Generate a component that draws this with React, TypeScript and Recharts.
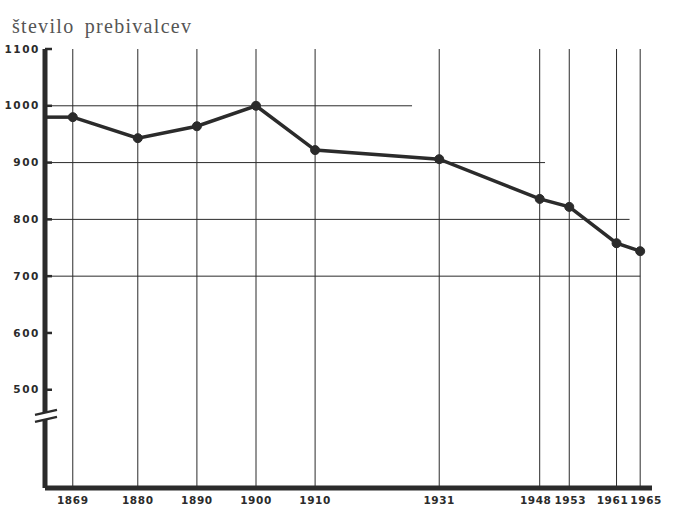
import {
  LineChart,
  Line,
  XAxis,
  YAxis,
  ReferenceLine,
  ReferenceDot,
} from 'recharts';

// census years and population
const years = [1869, 1880, 1890, 1900, 1910, 1931, 1948, 1953, 1961, 1965];
const population = [980, 943, 964, 1000, 922, 906, 836, 822, 758, 744];
const yTicks = [500, 600, 700, 800, 900, 1000, 1100];

// horizontal guide lines, each stopping at a different year
const guideValues = [1000, 900, 800, 700];
const guideEnds = [1926.4, 1948.9, 1963.2, 1965];

const xMin = 1864.3;
const xMax = 1967;
const breakValue = 454;

const ink = '#2b2b2b';
const handFont = '"DejaVu Sans", sans-serif';

// crowded year labels are pushed apart a little, as in the drawing
const labelNudge: Record<number, number> = { 1948: -4, 1953: 1, 1961: -4, 1965: 6 };

const data = years.map((year, i) => ({ year, value: population[i] }));

const YTick = ({ x, y, payload }: any) => (
  <g>
    <line x1={x} y1={y} x2={x + 7} y2={y} stroke={ink} strokeWidth={2.5} />
    <text
      x={x - 5}
      y={y}
      dy="0.35em"
      textAnchor="end"
      fontFamily={handFont}
      fontSize={10.5}
      fontWeight={600}
      letterSpacing={1.6}
      fill={ink}
    >
      {payload.value}
    </text>
  </g>
);

const XTick = ({ x, y, payload }: any) => (
  <text
    x={x + (labelNudge[payload.value] || 0)}
    y={y + 16}
    textAnchor="middle"
    fontFamily={handFont}
    fontSize={10.5}
    fontWeight={600}
    letterSpacing={0.6}
    fill={ink}
  >
    {payload.value}
  </text>
);

// the "//" break drawn across the value axis
const AxisBreak = ({ cx, cy }: any) => (
  <g>
    <polygon
      points={`${cx - 10},${cy - 1} ${cx + 12},${cy - 6} ${cx + 12},${cy + 1} ${cx - 10},${cy + 6}`}
      fill="#fff"
    />
    <line x1={cx - 10} y1={cy - 1} x2={cx + 12} y2={cy - 6} stroke={ink} strokeWidth={2.5} />
    <line x1={cx - 10} y1={cy + 6} x2={cx + 12} y2={cy + 1} stroke={ink} strokeWidth={2.5} />
  </g>
);

export default function App() {
  return (
    <div
      style={{
        position: 'absolute',
        left: 0,
        top: 0,
        width: 677,
        height: 513,
        background: '#fff',
      }}
    >
      <div
        style={{
          position: 'absolute',
          left: 12,
          top: 15,
          fontFamily: '"Liberation Serif", serif',
          fontSize: 20,
          letterSpacing: 1.3,
          wordSpacing: 4,
          color: '#555',
        }}
      >
        število prebivalcev
      </div>
      <LineChart
        width={677}
        height={513}
        data={data}
        margin={{ top: 49, right: 25, left: 0, bottom: 0 }}
      >
        <XAxis
          dataKey="year"
          type="number"
          domain={[xMin, xMax]}
          ticks={years}
          interval={0}
          allowDataOverflow
          height={25}
          tickSize={0}
          tickMargin={0}
          tickLine={false}
          axisLine={{ stroke: ink, strokeWidth: 5 }}
          tick={<XTick />}
        />
        <YAxis
          type="number"
          domain={[327, 1100]}
          ticks={yTicks}
          interval={0}
          allowDataOverflow
          width={45}
          tickSize={0}
          tickMargin={0}
          tickLine={false}
          axisLine={{ stroke: ink, strokeWidth: 5 }}
          tick={<YTick />}
        />
        {years.map((yr) => (
          <ReferenceLine key={yr} x={yr} stroke={ink} strokeWidth={1} />
        ))}
        {guideValues.map((v, i) => (
          <ReferenceLine
            key={v}
            segment={[
              { x: xMin, y: v },
              { x: guideEnds[i], y: v },
            ]}
            stroke={ink}
            strokeWidth={1}
            ifOverflow="visible"
          />
        ))}
        <ReferenceLine
          segment={[
            { x: xMin, y: population[0] },
            { x: years[0], y: population[0] },
          ]}
          stroke={ink}
          strokeWidth={3.5}
          ifOverflow="visible"
        />
        <Line
          dataKey="value"
          stroke={ink}
          strokeWidth={3.5}
          dot={{ r: 4.5, fill: ink, stroke: ink, strokeWidth: 1 }}
          isAnimationActive={false}
        />
        <ReferenceDot
          x={xMin}
          y={breakValue}
          ifOverflow="visible"
          shape={<AxisBreak />}
        />
      </LineChart>
    </div>
  );
}
